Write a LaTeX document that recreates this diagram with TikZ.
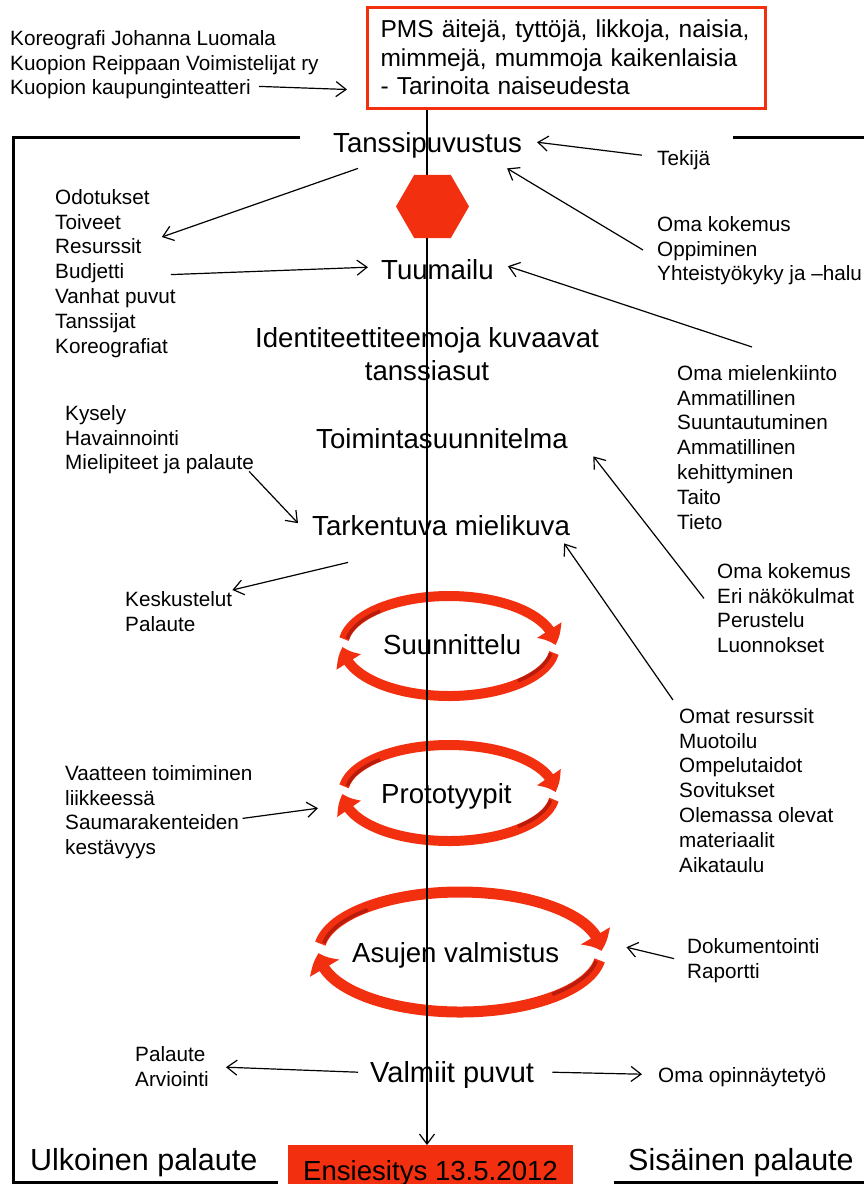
\documentclass[tikz,border=0pt]{standalone}
\usepackage{fontspec}
\setmainfont{Liberation Sans}
\usetikzlibrary{arrows.meta,bending,shapes.geometric}
\definecolor{pred}{RGB}{242,48,15}
\definecolor{pdark}{RGB}{185,28,12}
\newcommand\fsm{\fontsize{20.7pt}{24.8pt}\selectfont}
\newcommand\fbg{\fontsize{27.6pt}{33pt}\selectfont}
\newcommand\fval{\fontsize{29pt}{33pt}\selectfont}
\newcommand\fxl{\fontsize{30.5pt}{36pt}\selectfont}
\newcommand\fpms{\fontsize{24.5pt}{28.5pt}\selectfont}
\newcommand\cyc[6]{%
  \draw[pred, line width=#5pt, -{Triangle[bend,length=16pt,width=#6pt]}]
    ([shift={(188:#3 and #4)}]#1,#2) arc[start angle=188, end angle=359, x radius=#3, y radius=#4];
  \draw[pred, line width=#5pt, -{Triangle[bend,length=16pt,width=#6pt]}]
    ([shift={(8:#3 and #4)}]#1,#2) arc[start angle=8, end angle=179, x radius=#3, y radius=#4];
  \draw[pdark, line width=3.5pt] ([shift={(189:#3-3 and #4-3)}]#1,#2) arc[start angle=189, end angle=228, x radius=#3-3, y radius=#4-3];
  \draw[pdark, line width=3.5pt] ([shift={(9:#3-3 and #4-3)}]#1,#2) arc[start angle=9, end angle=48, x radius=#3-3, y radius=#4-3];
}
\tikzset{
  sm/.style={font=\fsm, align=left, inner sep=0pt, anchor=north west,
    execute at begin node={\rule{0pt}{17pt}}, execute at end node={\rule[-5pt]{0pt}{5pt}}},
  bg/.style={font=\fbg, align=left, inner sep=0pt, anchor=north west,
    execute at begin node={\rule{0pt}{23pt}}, execute at end node={\rule[-7pt]{0pt}{7pt}}},
  xl/.style={font=\fxl, align=left, inner sep=0pt, anchor=north west,
    execute at begin node={\rule{0pt}{25pt}}, execute at end node={\rule[-7pt]{0pt}{7pt}}},
  pmsbox/.style={draw=pred, line width=3pt, fill=white, anchor=north west, text width=372pt,
    inner xsep=13pt, inner ysep=0pt, align=left, font=\fpms},
  ensbox/.style={fill=pred, anchor=north, minimum width=285pt, inner xsep=0pt, inner ysep=0pt,
    text height=35pt, text depth=12pt, font=\fbg},
  frame/.style={line width=3pt, black},
  arr/.style={line width=1.2pt, -{Straight Barb[length=10pt,width=15pt]}},
  hexa/.style={regular polygon, regular polygon sides=6, fill=pred, minimum size=73pt, inner sep=0pt}
}
\begin{document}
\begin{tikzpicture}[x=1pt,y=-1pt]
\useasboundingbox (0,0) rectangle (864,1184);
% frame
\draw[frame] (300,137) -- (13.5,137) -- (13.5,1182) -- (278,1182);
\draw[frame] (733,137) -- (868,137);
\draw[frame] (614,1182) -- (868,1182);
% cycle arrows
\cyc{449}{646}{106}{50}{10}{28}
\cyc{449}{793}{106}{48}{10}{28}
\cyc{460}{952}{141}{60}{11}{33}
% texts
\node[sm] (kor) at (10,30) {Koreografi Johanna Luomala\\Kuopion Reippaan Voimistelijat ry\\Kuopion kaupunginteatteri};
\node[bg] (tan) at (333,129) {Tanssipuvustus};
\node[sm] (tek) at (657,148) {Tekijä};
\node[sm] (odo) at (55,189) {Odotukset\\Toiveet\\Resurssit\\Budjetti\\Vanhat puvut\\Tanssijat\\Koreografiat};
\node[sm] (oma1) at (657,216) {Oma kokemus\\Oppiminen\\Yhteistyökyky ja –halu};
\node[bg] (tuu) at (381,256) {Tuumailu};
\node[bg, anchor=north, align=center] (ide) at (427,327) {Identiteettiteemoja kuvaavat\\tanssiasut};
\node[sm] (mie) at (677,365) {Oma mielenkiinto\\Ammatillinen\\Suuntautuminen\\Ammatillinen\\kehittyminen\\Taito\\Tieto};
\node[sm] (kys) at (65,405) {Kysely\\Havainnointi\\Mielipiteet ja palaute};
\node[bg] (toi) at (316,425) {Toimintasuunnitelma};
\node[bg] (tar) at (312,512) {Tarkentuva mielikuva};
\node[sm] (oma2) at (717,563) {Oma kokemus\\Eri näkökulmat\\Perustelu\\Luonnokset};
\node[sm] (kes) at (125,591) {Keskustelut\\Palaute};
\node[bg] (suu) at (383,631) {Suunnittelu};
\node[sm] (res) at (679,708) {Omat resurssit\\Muotoilu\\Ompelutaidot\\Sovitukset\\Olemassa olevat\\materiaalit\\Aikataulu};
\node[sm] (vaa) at (65,765) {Vaatteen toimiminen\\liikkeessä\\Saumarakenteiden\\kestävyys};
\node[bg] (pro) at (381,780) {Prototyypit};
\node[sm] (dok) at (687,938) {Dokumentointi\\Raportti};
\node[bg] (asu) at (352,939) {Asujen valmistus};
\node[sm] (pal) at (135,1046) {Palaute\\Arviointi};
\node[bg, font=\fval] (val) at (370,1059) {Valmiit puvut};
\node[sm] (opi) at (658,1065) {Oma opinnäytetyö};
\node[xl] (ulk) at (30,1145) {Ulkoinen palaute};
\node[xl] (sis) at (628,1145) {Sisäinen palaute};
\node[ensbox] (ens) at (430.5,1145) {Ensiesitys 13.5.2012};
\node[pmsbox] (pms) at (366,6) {\rule{0pt}{30pt}PMS äitejä, tyttöjä, likkoja, naisia,\\mimmejä, mummoja kaikenlaisia\\- Tarinoita naiseudesta\rule[-14pt]{0pt}{14pt}};
% main vertical line
\draw[arr] ([shift={(-3.5,0)}]ens.north |- pms.south) -- ([shift={(-3.5,0)}]ens.north);
\node[hexa] (hex) at (432.5,206.5) {};
% connectors
\draw[arr] ([shift={(249,-13.6)}]kor.south west) -- ([shift={(-19,31.5)}]pms.west);
\draw[arr] ([shift={(-15,-4)}]tek.west) -- ([shift={(15,-2)}]tan.east);
\draw[arr] ([shift={(25,9)}]tan.south west) -- ([shift={(-14,48)}]odo.north east);
\draw[arr] ([shift={(-14,-1)}]oma1.west) -- ([shift={(-15,9)}]tan.south east);
\draw[arr] ([shift={(-5,1)}]odo.east) -- ([shift={(-13,-4)}]tuu.west);
\draw[arr] ([shift={(75,-18)}]mie.north west) -- ([shift={(14,-5)}]tuu.east);
\draw[arr] ([shift={(-5,-3.6)}]kys.south east) -- ([shift={(-14,-4)}]tar.west);
\draw[arr] ([shift={(36,20)}]tar.south west) -- ([shift={(0,-1)}]kes.north east);
\draw[arr] ([shift={(-13,-12)}]oma2.west) -- ([shift={(25.4,1)}]toi.south east);
\draw[arr] ([shift={(-6,-8)}]res.north west) -- ([shift={(-6,1)}]tar.south east);
\draw[arr] ([shift={(-10,6)}]vaa.east) -- ([shift={(-63,13)}]pro.west);
\draw[arr] ([shift={(-13,-2)}]dok.west) -- ([shift={(67,-7)}]asu.east);
\draw[arr] ([shift={(-12,-2)}]val.west) -- ([shift={(17,-1.4)}]pal.east);
\draw[arr] ([shift={(18,-2)}]val.east) -- ([shift={(-16,-2)}]opi.west);
\end{tikzpicture}
\end{document}
